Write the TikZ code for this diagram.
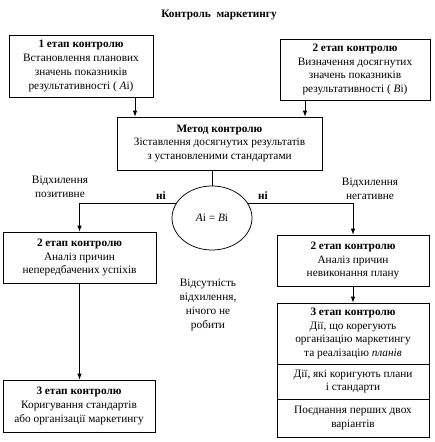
\documentclass[tikz,border=0pt]{standalone}
\usepackage{fontspec}
\setmainfont{Liberation Serif}
\usetikzlibrary{shapes.geometric,arrows.meta}
\begin{document}
\begin{tikzpicture}[x=1pt,y=-1pt,
  every node/.style={font=\fontsize{11.3}{13.8}\selectfont, inner sep=0pt, align=center},
  box/.style={draw, line width=0.75pt},
  arr/.style={line width=0.75pt, -{Latex[length=6pt,width=4.5pt]}},
  ln/.style={line width=0.75pt}]
\useasboundingbox (0,0) rectangle (434,442);
\node (title) at (219,15) {\textbf{Контроль\ \ маркетингу}};
% top boxes
\node[box, minimum width=144pt, minimum height=62pt] (a) at (81,66)
  {\textbf{1 етап контролю}\\Встановлення планових\\значень показників\\результативності ( \textit{A}i)};
\node[box, minimum width=150pt, minimum height=61pt] (b) at (355,69.5)
  {\textbf{2 етап контролю}\\Визначення досягнутих\\значень показників\\результативності ( \textit{B}i)};
% method
\node[box, minimum width=205pt, minimum height=53pt] (m) at (219.5,143.5)
  {\textbf{Метод контролю}\\Зіставлення досягнутих результатів\\з установленими стандартами};
\coordinate (xa) at (135,0);
\coordinate (xb) at (305,0);
\draw[arr] (a.south -| xa) -- (m.north -| xa);
\draw[arr] (b.south -| xb) -- (m.north -| xb);
% decision
\node[draw, ellipse, line width=0.75pt, minimum width=80pt, minimum height=64pt] (e) at (212,218)
  {\textit{A}i = \textit{B}i};
\draw[ln] (m.south -| e.north) -- (e.north);
% second row
\node[box, minimum width=153pt, minimum height=51pt] (l2) at (79.5,257.5)
  {\textbf{2 етап контролю}\\Аналіз причин\\непередбачених успіхів};
\node[box, minimum width=152pt, minimum height=51pt] (r2) at (353,260.5)
  {\textbf{2 етап контролю}\\Аналіз причин\\невиконання плану};
\draw[arr] (e.158) -| (l2.north);
\draw[arr] (e.22) -| (r2.north);
\node (ni1) at (161,196) {\textbf{ні}};
\node (ni2) at (263,196) {\textbf{ні}};
\node (vp) at (60,187) {Відхилення\\позитивне};
\node (vn) at (370,189) {Відхилення\\негативне};
\node (none) at (208,305) {Відсутність\\відхилення,\\нічого не\\робити};
% third row
\node[box, minimum width=152pt, minimum height=52pt] (l3) at (79,406)
  {\textbf{3 етап контролю}\\Коригування стандартів\\або організації маркетингу};
\draw[arr] (l2.south) -- (l2.south |- l3.north);
\node[box, minimum width=152pt, minimum height=61pt] (s1) at (353,333.5)
  {\textbf{3 етап контролю}\\Дії, що корегують\\організацію маркетингу\\та реалізацію \textit{планів}};
\node[box, minimum width=152pt, minimum height=35pt] (s2) at (353,381.5)
  {Дії, які коригують плани\\і стандарти};
\node[box, minimum width=152pt, minimum height=38pt] (s3) at (353,418)
  {Поєднання перших двох\\варіантів};
\draw[arr] (r2.south) -- (s1.north);
\end{tikzpicture}
\end{document}
